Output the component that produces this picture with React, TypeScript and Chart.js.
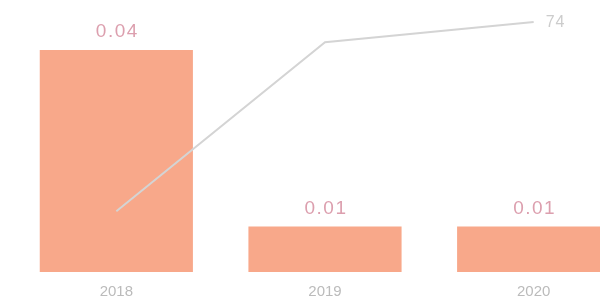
import React, { useEffect, useRef } from "react";
import { Chart, registerables } from "chart.js";

Chart.register(...registerables);

const categories = ["2018", "2019", "2020"];
const barValues = [0.044, 0.009, 0.009];
const barLabels = ["0.04", "0.01", "0.01"];
const lineValues = [18, 68, 74];
const lineLabels = ["", "", "74"];

const labelPlugin = {
  id: "valueLabels",
  afterDatasetsDraw(chart: any) {
    const ctx = chart.ctx;
    ctx.save();
    ctx.textAlign = "center";
    ctx.textBaseline = "middle";
    const barMeta = chart.getDatasetMeta(0);
    ctx.font = "19px 'Liberation Sans', Arial, sans-serif";
    (ctx as any).letterSpacing = "1.5px";
    ctx.fillStyle = "#dc9fae";
    barMeta.data.forEach((el: any, i: number) => {
      ctx.fillText(barLabels[i], el.x + 1, el.y - 18);
    });
    const lineMeta = chart.getDatasetMeta(1);
    ctx.font = "16px 'Liberation Sans', Arial, sans-serif";
    (ctx as any).letterSpacing = "1px";
    ctx.fillStyle = "#cccccc";
    ctx.textAlign = "left";
    lineMeta.data.forEach((el: any, i: number) => {
      if (lineLabels[i]) ctx.fillText(lineLabels[i], el.x + 12, el.y + 1);
    });
    ctx.restore();
  },
};

export default function App() {
  const ref = useRef<HTMLCanvasElement>(null);
  useEffect(() => {
    if (!ref.current) return;
    const chart = new Chart(ref.current, {
      type: "bar",
      data: {
        labels: categories,
        datasets: [
          {
            type: "bar",
            data: barValues,
            backgroundColor: "#f8a88a",
            yAxisID: "y",
            categoryPercentage: 1,
            barPercentage: 0.734,
            order: 2,
          },
          {
            type: "line",
            data: lineValues,
            borderColor: "#d4d4d4",
            borderWidth: 2,
            pointRadius: 0,
            tension: 0,
            yAxisID: "y1",
            order: 1,
          } as any,
        ],
      },
      options: {
        animation: false,
        responsive: false,
        layout: { padding: { left: 12, right: 0, top: 10, bottom: 0 } },
        plugins: { legend: { display: false }, tooltip: { enabled: false } },
        scales: {
          x: {
            grid: { display: false },
            border: { display: false },
            ticks: {
              color: "#bbbbbb",
              padding: 3,
              font: { size: 15, family: "'Liberation Sans', Arial, sans-serif" },
            },
          },
          y: { display: false, min: 0, max: 0.0519 },
          y1: { display: false, min: 0, max: 77.55 },
        },
      },
      plugins: [labelPlugin],
    });
    return () => chart.destroy();
  }, []);
  return (
    <div style={{ position: "fixed", left: 0, top: 0, width: 600, height: 304, overflow: "hidden", background: "#fff" }}>
      <canvas ref={ref} width={638} height={304} style={{ display: "block", width: 638, height: 304 }} />
    </div>
  );
}
